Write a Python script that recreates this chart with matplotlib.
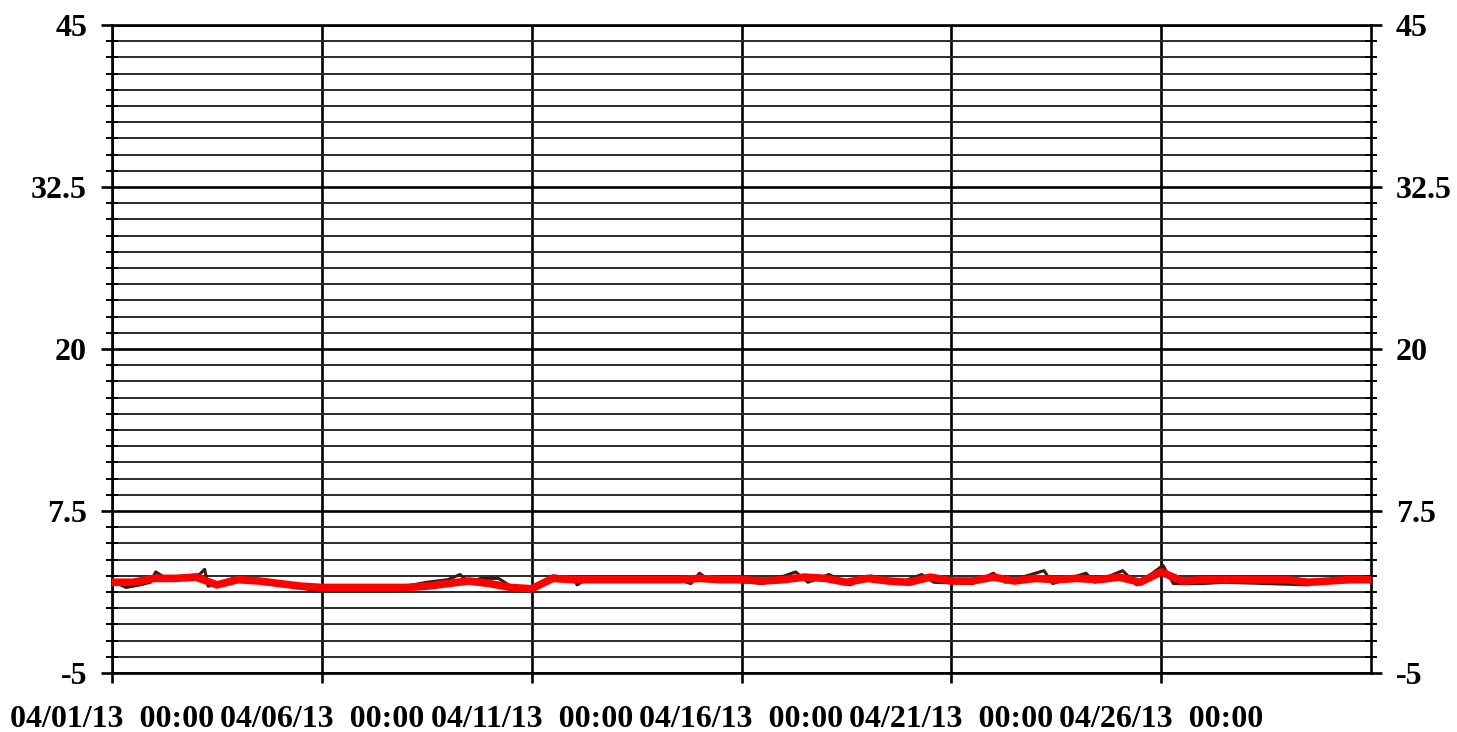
import numpy as np
import pandas as pd
import matplotlib
matplotlib.use("Agg")
import matplotlib.pyplot as plt
import matplotlib.dates as mdates
from matplotlib.ticker import MultipleLocator, FixedLocator

# smoothed series, one value every 12 hours from 04/01/13 00:00 to 05/01/13 00:00
red_times = pd.date_range("2013-04-01 00:00", "2013-05-01 00:00", freq="12h")
red_values = [2.0, 2.0, 2.3, 2.3, 2.4, 1.8, 2.2, 2.1, 1.9, 1.7,
              1.6, 1.6, 1.6, 1.6, 1.6, 1.7, 1.9, 2.1, 1.9, 1.6,
              1.5, 2.3, 2.2, 2.2, 2.2, 2.2, 2.2, 2.2, 2.3, 2.2,
              2.2, 2.1, 2.2, 2.4, 2.3, 2.0, 2.3, 2.1, 2.0, 2.4,
              2.1, 2.1, 2.4, 2.1, 2.3, 2.2, 2.3, 2.2, 2.4, 2.0,
              2.8, 2.1, 2.2, 2.2, 2.2, 2.2, 2.2, 2.0, 2.1, 2.2,
              2.2]

# raw readings (dark line underneath)
raw_times = pd.to_datetime([
    "2013-04-01 00:00", "2013-04-01 08:00", "2013-04-01 16:00", "2013-04-01 22:00",
    "2013-04-02 01:00", "2013-04-02 07:00", "2013-04-03 02:00", "2013-04-03 05:00",
    "2013-04-03 07:00", "2013-04-04 00:00", "2013-04-05 00:00", "2013-04-05 22:00",
    "2013-04-06 02:00", "2013-04-08 00:00", "2013-04-08 12:00", "2013-04-09 00:00",
    "2013-04-09 07:00", "2013-04-09 12:00", "2013-04-09 19:00", "2013-04-10 05:00",
    "2013-04-10 12:00", "2013-04-10 22:00", "2013-04-11 05:00", "2013-04-11 12:00",
    "2013-04-12 00:00", "2013-04-12 02:00", "2013-04-12 07:00", "2013-04-14 12:00",
    "2013-04-14 19:00", "2013-04-15 00:00", "2013-04-15 05:00", "2013-04-16 05:00",
    "2013-04-16 12:00", "2013-04-17 07:00", "2013-04-17 14:00", "2013-04-18 02:00",
    "2013-04-18 14:00", "2013-04-19 02:00", "2013-04-19 17:00", "2013-04-20 07:00",
    "2013-04-20 14:00", "2013-04-21 12:00", "2013-04-22 00:00", "2013-04-22 07:00",
    "2013-04-23 05:00", "2013-04-23 10:00", "2013-04-24 05:00", "2013-04-24 10:00",
    "2013-04-25 02:00", "2013-04-25 10:00", "2013-04-26 01:00", "2013-04-26 07:00",
    "2013-04-27 00:00", "2013-04-27 12:00", "2013-04-29 12:00", "2013-04-30 00:00",
    "2013-05-01 00:00"])
raw_values = [2.1, 1.6, 1.8, 2.0,
              2.8, 2.3, 2.6, 3.0,
              1.7, 2.4, 1.9, 1.3,
              1.6, 1.7, 2.0, 2.2,
              2.6, 2.0, 2.3, 2.3,
              1.7, 1.4, 1.8, 2.5,
              2.3, 1.8, 2.2, 2.2,
              1.9, 2.7, 2.2, 2.0,
              1.9, 2.8, 2.0, 2.6,
              1.8, 2.5, 1.9, 2.6,
              2.0, 1.9, 2.7, 2.0,
              2.9, 1.9, 2.7, 2.0,
              2.9, 1.8, 3.3, 1.9,
              1.9, 2.0, 1.8, 2.2,
              2.2]

y_ticks = [-5, 7.5, 20, 32.5, 45]
y_labels = ["-5", "7.5", "20", "32.5", "45"]
x_ticks = pd.to_datetime(["2013-04-01", "2013-04-06", "2013-04-11",
                          "2013-04-16", "2013-04-21", "2013-04-26"])
x_start, x_end = pd.Timestamp("2013-04-01"), pd.Timestamp("2013-05-01")

plt.rcParams["font.family"] = ["Liberation Serif", "DejaVu Serif"]
plt.rcParams["font.weight"] = "bold"

fig = plt.figure(figsize=(14.57, 7.32), dpi=100)
ax = fig.add_axes([112 / 1457, 1 - 673 / 732, (1371 - 112) / 1457, (673 - 25) / 732])

ax.plot(raw_times, raw_values, color="#3a1a10", lw=2.2, zorder=3)
ax.plot(red_times, red_values, color="#ff0000", lw=5.5, zorder=4)

ax.set_xlim(x_start, x_end)
ax.set_ylim(-5, 45)

ax.yaxis.set_major_locator(FixedLocator(y_ticks))
ax.set_yticklabels(y_labels)
ax.yaxis.set_minor_locator(MultipleLocator(1.25))
ax.set_xticks(x_ticks)
ax.xaxis.set_major_formatter(mdates.DateFormatter("%m/%d/%y  %H:%M"))

ax.grid(which="major", axis="both", color="black", lw=1.9, zorder=1)
ax.grid(which="minor", axis="y", color="#2a2a2a", lw=1.4, zorder=1)

ax.tick_params(axis="y", which="major", direction="out", length=8, width=1.9,
               left=True, right=True, labelleft=True, labelright=True,
               labelsize=23, pad=10)
ax.tick_params(axis="y", which="minor", direction="inout", length=8, width=1.4,
               left=True, right=True)
ax.tick_params(axis="x", which="major", direction="out", length=7, width=1.9,
               labelsize=23, pad=16)
for s in ax.spines.values():
    s.set_linewidth(1.9)

fig.savefig("out.png", dpi=100, facecolor="white")
